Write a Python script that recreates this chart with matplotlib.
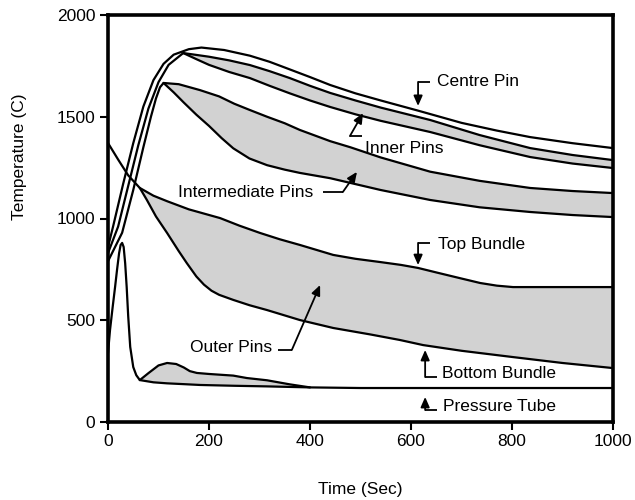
import numpy as np
import matplotlib
matplotlib.use("Agg")
import matplotlib.pyplot as plt

plt.rcParams['font.family'] = ['Liberation Sans', 'DejaVu Sans']

# ---- fuel channel temperature transients (time in s, temperature in C) ----
t_centre = [0, 10, 30, 50, 70, 90, 110, 130, 160, 185, 230, 281, 320, 350, 400, 440, 490, 540, 614, 700, 770, 836, 920, 1000]
T_centre = [860, 960, 1170, 1370, 1550, 1680, 1760, 1805, 1832, 1840, 1828, 1800, 1770, 1742, 1695, 1656, 1615, 1580, 1530, 1470, 1432, 1400, 1370, 1346]

t_inner_hi = [0, 20, 40, 60, 80, 100, 120, 149, 200, 240, 281, 320, 360, 400, 440, 490, 540, 638, 736, 836, 920, 1000]
T_inner_hi = [830, 960, 1160, 1360, 1540, 1670, 1755, 1813, 1795, 1777, 1754, 1724, 1690, 1652, 1617, 1580, 1545, 1484, 1410, 1346, 1312, 1287]
t_inner_lo = [149, 175, 200, 240, 281, 320, 360, 400, 440, 490, 540, 638, 736, 836, 920, 1000]
T_inner_lo = [1813, 1783, 1755, 1720, 1690, 1652, 1615, 1580, 1548, 1512, 1480, 1425, 1360, 1302, 1270, 1248]

t_inter_hi = [0, 28, 50, 70, 85, 95, 103, 110, 140, 182, 220, 250, 281, 315, 350, 380, 440, 480, 540, 638, 736, 836, 920, 1000]
T_inter_hi = [790, 930, 1140, 1350, 1500, 1590, 1645, 1666, 1660, 1631, 1600, 1564, 1533, 1500, 1468, 1435, 1380, 1350, 1300, 1230, 1185, 1150, 1135, 1125]
t_inter_lo = [110, 130, 150, 175, 200, 225, 248, 280, 315, 350, 380, 440, 540, 638, 736, 836, 920, 1000]
T_inter_lo = [1666, 1620, 1570, 1510, 1455, 1395, 1345, 1295, 1262, 1240, 1224, 1198, 1140, 1091, 1055, 1032, 1017, 1007]

t_bundle_top = [0, 20, 40, 63, 90, 117, 160, 222, 260, 301, 340, 380, 446, 490, 539, 580, 614, 650, 700, 737, 770, 802, 900, 1000]
T_bundle_top = [1371, 1290, 1212, 1150, 1112, 1085, 1045, 1002, 965, 929, 898, 870, 821, 802, 786, 772, 757, 735, 705, 683, 670, 663, 663, 663]
t_bundle_bot = [63, 77, 95, 117, 140, 156, 175, 190, 205, 220, 248, 280, 315, 380, 446, 520, 578, 624, 700, 802, 900, 1000]
T_bundle_bot = [1150, 1091, 1010, 929, 840, 781, 715, 675, 645, 625, 600, 574, 550, 501, 462, 430, 403, 378, 350, 319, 290, 265]

t_tube = [0, 4, 9, 14, 18, 22, 25, 28, 31, 34, 37, 40, 44, 50, 56, 63, 90, 117, 150, 182, 250, 315, 400, 500, 700, 1000]
T_tube = [339, 452, 560, 663, 750, 830, 870, 880, 860, 780, 663, 520, 369, 270, 230, 206, 195, 190, 186, 182, 178, 175, 170, 167, 167, 167]
t_tube_hot = [63, 80, 100, 117, 135, 150, 162, 176, 200, 248, 275, 315, 360, 400]
T_tube_hot = [206, 240, 278, 290, 285, 268, 250, 241, 236, 228, 216, 205, 185, 170]

x_ticks = [0, 200, 400, 600, 800, 1000]
y_ticks = [0, 500, 1000, 1500, 2000]

FILL = '#d2d2d2'
LW = 1.6

fig = plt.figure(figsize=(6.35, 5.0), dpi=100)
ax = fig.add_axes([108 / 635, 78 / 500, 505 / 635, 407 / 500])


def band(t_a, T_a, t_b, T_b):
    xs = np.r_[t_a, t_b[::-1]]
    ys = np.r_[T_a, T_b[::-1]]
    ax.fill(xs, ys, color=FILL, lw=0, zorder=1)


def arr(a):
    return np.asarray(a, dtype=float)


# shaded spreads
ti_hi, Ti_hi = arr(t_inner_hi), arr(T_inner_hi)
m = ti_hi >= t_inner_lo[0]
band(ti_hi[m], Ti_hi[m], arr(t_inner_lo), arr(T_inner_lo))

tm_hi, Tm_hi = arr(t_inter_hi), arr(T_inter_hi)
m = tm_hi >= t_inter_lo[0]
band(tm_hi[m], Tm_hi[m], arr(t_inter_lo), arr(T_inter_lo))

tb, Tb = arr(t_bundle_top), arr(T_bundle_top)
m = tb >= t_bundle_bot[0]
band(tb[m], Tb[m], arr(t_bundle_bot), arr(T_bundle_bot))

tt, Tt = arr(t_tube), arr(T_tube)
m = (tt >= t_tube_hot[0]) & (tt <= t_tube_hot[-1])
band(arr(t_tube_hot), arr(T_tube_hot), tt[m], Tt[m])

# curves
style = dict(color='black', lw=LW, solid_joinstyle='round', solid_capstyle='round', zorder=3)
for t, T in [(t_centre, T_centre), (t_inner_hi, T_inner_hi), (t_inner_lo, T_inner_lo),
             (t_inter_hi, T_inter_hi), (t_inter_lo, T_inter_lo),
             (t_bundle_top, T_bundle_top), (t_bundle_bot, T_bundle_bot),
             (t_tube, T_tube), (t_tube_hot, T_tube_hot)]:
    ax.plot(t, T, **style)


# callouts: text, elbow point(s), arrow tip
def callout(label, text_xy, path, ha='left'):
    ax.text(text_xy[0], text_xy[1], label, ha=ha, va='center', fontsize=12.5, zorder=5)
    xs = [p[0] for p in path[:-1]]
    ys = [p[1] for p in path[:-1]]
    ax.plot(xs, ys, color='black', lw=1.3, zorder=4, solid_capstyle='butt')
    ax.annotate('', xy=path[-1], xytext=path[-2],
                arrowprops=dict(arrowstyle='-|>,head_length=0.5,head_width=0.22', color='black',
                                lw=1.3, shrinkA=0, shrinkB=0, mutation_scale=12), zorder=4)


callout('Centre Pin', (651, 1671), [(638, 1671), (614, 1671), (614, 1553)])
callout('Inner Pins', (509, 1346), [(503, 1405), (479, 1405), (505, 1518)])
callout('Intermediate Pins', (406, 1130), [(426, 1130), (465, 1130), (493, 1229)], ha='right')
callout('Top Bundle', (653, 870), [(638, 880), (614, 880), (614, 771)])
callout('Bottom Bundle', (661, 236), [(651, 221), (628, 221), (628, 354)])
callout('Pressure Tube', (663, 74), [(651, 59), (628, 59), (628, 123)])
callout('Outer Pins', (325, 364), [(337, 354), (364, 354), (420, 673)], ha='right')

ax.set_xlim(0, 1000)
ax.set_ylim(0, 2000)
ax.set_xticks(x_ticks)
ax.set_yticks(y_ticks)
ax.tick_params(direction='out', length=6, width=1.5, labelsize=12.5, pad=3,
               top=False, right=False)
for s in ax.spines.values():
    s.set_linewidth(2.6)

ax.set_xlabel('Time (Sec)', fontsize=12.5)
ax.set_ylabel('Temperature (C)', fontsize=12.5)
ax.xaxis.set_label_coords(0.499, -0.147)
ax.yaxis.set_label_coords(-0.160, 0.651)

fig.savefig('out.png', dpi=100)
